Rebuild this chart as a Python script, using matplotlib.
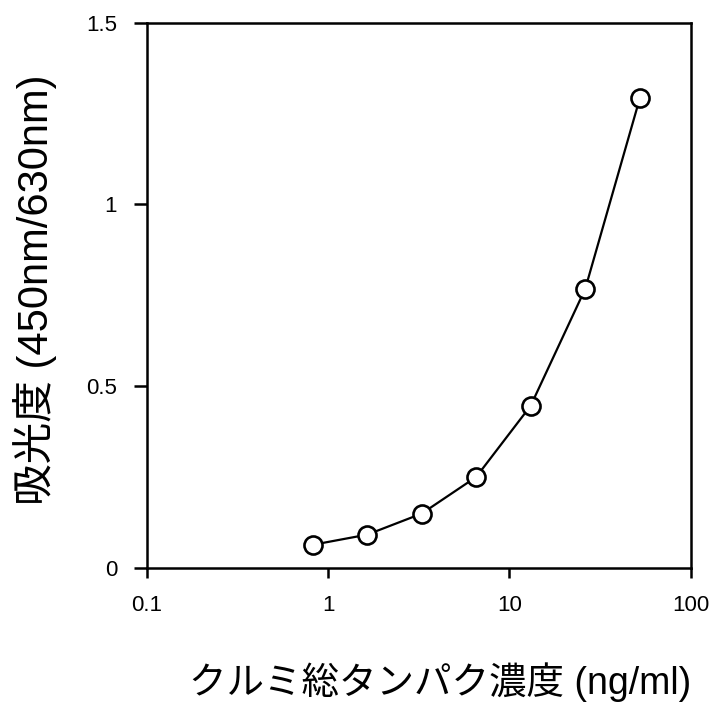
import matplotlib
matplotlib.use("Agg")
import matplotlib.pyplot as plt
from matplotlib.ticker import FixedLocator, NullLocator

plt.rcParams['font.family'] = ['Liberation Sans', 'Noto Sans CJK JP']

# 2-fold dilution series of walnut total protein
conc = [0.82, 1.64, 3.28, 6.56, 13.1, 26.2, 52.5]
absorbance = [0.063, 0.091, 0.149, 0.250, 0.446, 0.768, 1.294]

x_ticks = [0.1, 1, 10, 100]
x_tick_labels = ["0.1", "1", "10", "100"]
y_ticks = [0, 0.5, 1, 1.5]
y_tick_labels = ["0", "0.5", "1", "1.5"]

fig = plt.figure(figsize=(7.24, 7.15), dpi=100)
ax = fig.add_axes([0.203, 0.206, 0.751, 0.762])

ax.plot(conc, absorbance, color="black", linewidth=1.6, marker="o",
        markersize=13, markerfacecolor="white", markeredgecolor="black",
        markeredgewidth=1.9, zorder=3)

ax.set_xscale("log")
ax.set_xlim(0.1, 100)
ax.set_ylim(0, 1.5)
ax.xaxis.set_major_locator(FixedLocator(x_ticks))
ax.xaxis.set_minor_locator(NullLocator())
ax.set_xticklabels(x_tick_labels, fontsize=16)
ax.set_yticks(y_ticks)
ax.set_yticklabels(y_tick_labels, fontsize=16)

for side in ax.spines.values():
    side.set_linewidth(1.8)
ax.tick_params(axis="x", direction="out", length=7.5, width=1.8, pad=12)
ax.tick_params(axis="y", direction="out", length=9.5, width=1.8, pad=12)

ax.set_xlabel("クルミ総タンパク濃度 (ng/ml)", fontsize=27, va="center")
ax.set_ylabel("吸光度 (450nm/630nm)", fontsize=30, va="center")
ax.xaxis.set_label_coords(0.54, -0.21)
ax.yaxis.set_label_coords(-0.205, 0.51)

fig.savefig("out.png", dpi=100)
